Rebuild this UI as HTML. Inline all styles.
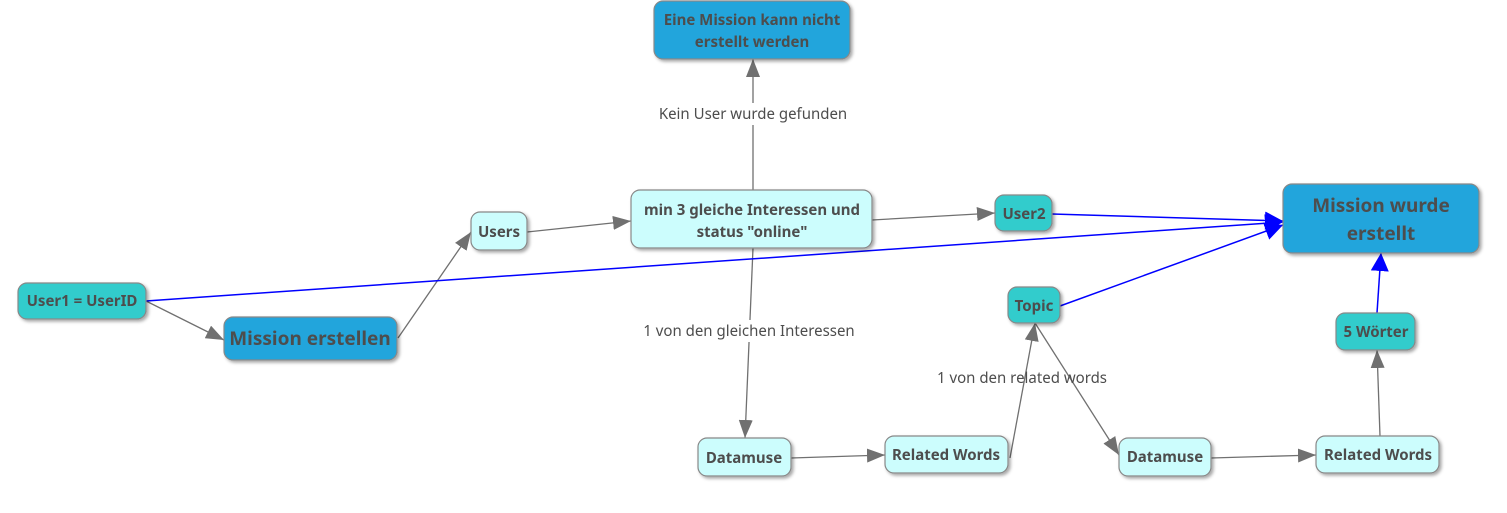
<!DOCTYPE html>
<html><head><meta charset="utf-8"><style>
html,body{margin:0;padding:0;background:#fff;}
svg{display:block;}
text{font-family:"Noto Sans","Liberation Sans","DejaVu Sans",sans-serif;fill:#4d4d4d;}
.b{font-weight:bold;}
</style></head><body>
<svg width="1507" height="513" viewBox="0 0 1507 513" xmlns="http://www.w3.org/2000/svg">
<defs>
<filter id="sh" x="-10%" y="-10%" width="130%" height="140%"><feDropShadow dx="2" dy="2" stdDeviation="1.5" flood-color="#000" flood-opacity="0.35"/></filter>
<marker id="ag" markerUnits="userSpaceOnUse" markerWidth="20" markerHeight="14" refX="18" refY="7" orient="auto"><polygon points="0,0 18,7 0,14" fill="#707070"/></marker>
<marker id="ab" markerUnits="userSpaceOnUse" markerWidth="20" markerHeight="18" refX="18" refY="9" orient="auto"><polygon points="0,0 18,9 0,18" fill="#0000ff"/></marker>
</defs>
<g stroke="#707070" stroke-width="1.3" fill="none" marker-end="url(#ag)">
<line x1="146" y1="301" x2="224" y2="340"/>
<line x1="398" y1="338" x2="471" y2="232"/>
<line x1="527" y1="232" x2="631" y2="221"/>
<line x1="872" y1="220" x2="995" y2="213"/>
<line x1="753" y1="190" x2="753" y2="59"/>
<line x1="753" y1="248" x2="745" y2="438"/>
<line x1="791" y1="458" x2="885" y2="455"/>
<line x1="1010" y1="458" x2="1035" y2="323"/>
<line x1="1035" y1="323" x2="1119" y2="455"/>
<line x1="1211" y1="458" x2="1316" y2="455"/>
<line x1="1380" y1="436" x2="1377" y2="350"/>
</g>
<g stroke="#0000ff" stroke-width="1.5" fill="none" marker-end="url(#ab)">
<line x1="1377" y1="313" x2="1381" y2="253"/>
<line x1="1052" y1="214" x2="1283" y2="221"/>
<line x1="146" y1="301" x2="1283" y2="222"/>
<line x1="1060" y1="306" x2="1283" y2="225"/>
</g>
<rect x="655" y="103" width="196" height="22" fill="#fff"/>
<text x="753" y="119" font-size="15" text-anchor="middle">Kein User wurde gefunden</text>
<rect x="640" y="320" width="218" height="22" fill="#fff"/>
<text x="749" y="336" font-size="15" text-anchor="middle">1 von den gleichen Interessen</text>
<text x="1022" y="383" font-size="15" text-anchor="middle">1 von den related words</text>
<g filter="url(#sh)" stroke="#888" stroke-width="1.2">
<rect x="654" y="1" width="196" height="58" rx="9" fill="#21a5dc"/>
<rect x="631" y="190" width="241" height="58" rx="9" fill="#ccfdfd"/>
<rect x="471" y="212" width="56" height="38" rx="9" fill="#ccfdfd"/>
<rect x="995" y="195" width="57" height="36" rx="9" fill="#33cccc"/>
<rect x="1283" y="184" width="196" height="69" rx="9" fill="#21a5dc"/>
<rect x="18" y="283" width="128" height="36" rx="9" fill="#33cccc"/>
<rect x="224" y="317" width="173" height="43" rx="9" fill="#21a5dc"/>
<rect x="1008" y="287" width="52" height="36" rx="9" fill="#33cccc"/>
<rect x="1336" y="313" width="79" height="37" rx="9" fill="#33cccc"/>
<rect x="698" y="438" width="93" height="38" rx="9" fill="#ccfdfd"/>
<rect x="885" y="436" width="123" height="37" rx="9" fill="#ccfdfd"/>
<rect x="1119" y="438" width="92" height="38" rx="9" fill="#ccfdfd"/>
<rect x="1316" y="436" width="123" height="37" rx="9" fill="#ccfdfd"/>
</g>
<g class="b" text-anchor="middle" font-size="15">
<text x="752" y="25" class="b">Eine Mission kann nicht</text>
<text x="752" y="47" class="b">erstellt werden</text>
<text x="752" y="215" class="b">min 3 gleiche Interessen und</text>
<text x="752" y="237" class="b">status "online"</text>
<text x="499" y="237" class="b">Users</text>
<text x="1024" y="219" class="b">User2</text>
<text x="1381" y="212" font-size="19" class="b">Mission wurde</text>
<text x="1381" y="240" font-size="19" class="b">erstellt</text>
<text x="82" y="306" class="b">User1 = UserID</text>
<text x="310" y="345" font-size="19" class="b">Mission erstellen</text>
<text x="1034" y="311" class="b">Topic</text>
<text x="1376" y="337" class="b">5 Wörter</text>
<text x="744" y="463" class="b">Datamuse</text>
<text x="946" y="460" class="b">Related Words</text>
<text x="1165" y="462" class="b">Datamuse</text>
<text x="1378" y="460" class="b">Related Words</text>
</g>
</svg>
</body></html>
